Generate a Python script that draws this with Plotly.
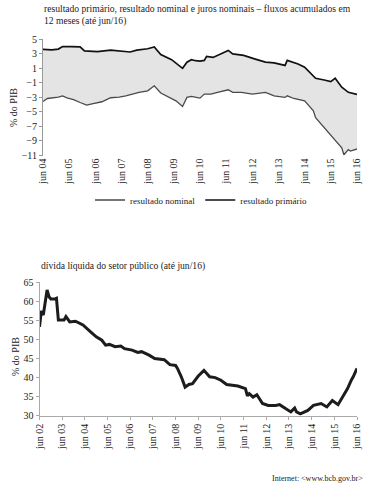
import plotly.graph_objects as go

# ---- top chart data (% do PIB, 12-month flows) ----
prim_dates = ["2004-06", "2004-10", "2005-01", "2005-03", "2005-07", "2005-11", "2006-01", "2006-07",
              "2007-01", "2007-06", "2007-10", "2008-01", "2008-06", "2008-09", "2008-12", "2009-05",
              "2009-10", "2009-12", "2010-02", "2010-04", "2010-06", "2010-08", "2010-09", "2010-12",
              "2011-04", "2011-07", "2011-09", "2012-02", "2012-07", "2012-12", "2013-04", "2013-09",
              "2013-10", "2014-03", "2014-06", "2014-11", "2015-03", "2015-06", "2015-08", "2015-11",
              "2016-02", "2016-06"]
prim_vals = [3.6, 3.55, 3.65, 4.0, 4.0, 3.95, 3.4, 3.3,
             3.5, 3.4, 3.25, 3.5, 3.7, 3.95, 2.9, 2.2,
             1.0, 1.85, 2.2, 2.05, 2.0, 2.1, 2.65, 2.5,
             3.0, 3.47, 3.0, 2.78, 2.3, 1.85, 1.76, 1.4,
             2.1, 1.6, 1.15, -0.37, -0.6, -0.83, -0.37, -1.6,
             -2.3, -2.6]

nom_dates = ["2004-06", "2004-08", "2005-01", "2005-03", "2005-05", "2005-08", "2005-11", "2006-02",
             "2006-05", "2006-09", "2007-01", "2007-05", "2007-08", "2008-02", "2008-06", "2008-09",
             "2008-12", "2009-03", "2009-07", "2009-10", "2009-12", "2010-02", "2010-05", "2010-06",
             "2010-08", "2010-11", "2011-02", "2011-07", "2011-09", "2012-01", "2012-06", "2012-12",
             "2013-04", "2013-09", "2013-10", "2014-01", "2014-06", "2014-08", "2014-10", "2014-11",
             "2015-02", "2015-04", "2015-06", "2015-08", "2015-11", "2015-12", "2016-02", "2016-03",
             "2016-06"]
nom_vals = [-3.56, -3.15, -2.96, -2.8, -3.05, -3.3, -3.7, -4.07,
            -3.85, -3.6, -3.05, -2.96, -2.78, -2.3, -2.1, -1.4,
            -2.4, -2.87, -3.47, -4.26, -3.0, -2.87, -3.0, -3.1,
            -2.55, -2.55, -2.3, -1.95, -2.3, -2.3, -2.55, -2.3,
            -2.78, -3.0, -2.78, -3.15, -3.47, -4.2, -4.86, -5.8,
            -6.85, -7.6, -8.3, -9.0, -9.95, -10.9, -10.2, -10.4,
            -10.1]

top_tick_dates = ["2004-06-01", "2005-06-01", "2006-06-01", "2007-06-01", "2008-06-01", "2009-06-01",
                  "2010-06-01", "2011-06-01", "2012-06-01", "2013-06-01", "2014-06-01", "2015-06-01",
                  "2016-06-01"]
top_tick_text = ["jun 04", "jun 05", "jun 06", "jun 07", "jun 08", "jun 09", "jun 10", "jun 11",
                 "jun 12", "jun 13", "jun 14", "jun 15", "jun 16"]
top_y_ticks = [5, 3, 1, -1, -3, -5, -7, -9, -11]

# ---- bottom chart data (dívida líquida, % do PIB) ----
debt_dates = ["2002-06", "2002-07", "2002-08", "2002-09", "2002-10", "2002-11", "2002-12", "2003-02",
              "2003-03", "2003-04", "2003-07", "2003-08", "2003-10", "2004-01", "2004-03", "2004-05",
              "2004-09", "2004-12", "2005-03", "2005-05", "2005-07", "2005-10", "2006-01", "2006-03",
              "2006-07", "2006-10", "2006-12", "2007-04", "2007-07", "2007-10", "2007-12", "2008-03",
              "2008-06", "2008-07", "2008-09", "2008-11", "2009-01", "2009-03", "2009-06", "2009-09",
              "2009-10", "2009-12", "2010-03", "2010-06", "2010-09", "2010-12", "2011-03", "2011-07",
              "2011-08", "2011-09", "2011-11", "2012-01", "2012-04", "2012-07", "2012-11", "2013-01",
              "2013-04", "2013-07", "2013-09", "2013-10", "2013-12", "2014-04", "2014-07", "2014-11",
              "2015-02", "2015-05", "2015-08", "2015-12", "2016-01", "2016-03", "2016-04", "2016-06"]
debt_vals = [53.3, 57.5, 56.4, 59.5, 63.0, 61.2, 60.6, 60.6,
             60.8, 55.1, 55.1, 56.0, 54.6, 54.8, 54.2, 53.8,
             52.0, 50.7, 49.8, 48.5, 48.7, 48.1, 48.3, 47.6,
             47.2, 46.6, 46.8, 45.9, 45.0, 44.8, 44.7, 43.4,
             43.2, 42.4, 40.2, 37.5, 38.2, 38.4, 40.4, 41.9,
             41.3, 40.2, 40.0, 39.3, 38.2, 38.0, 37.8, 37.1,
             35.2, 35.8, 34.9, 35.5, 33.2, 32.7, 32.7, 32.9,
             32.0, 31.0, 32.0, 31.0, 30.5, 31.4, 32.7, 33.2,
             32.3, 34.0, 32.9, 36.4, 37.1, 39.3, 40.2, 42.4]

bot_tick_dates = ["2002-06-01", "2003-06-01"] + top_tick_dates[:]
bot_tick_text = ["jun 02", "jun 03"] + top_tick_text[:]
bot_y_ticks = [30, 35, 40, 45, 50, 55, 60, 65]

W, H = 369, 492
SERIF = "Times New Roman, Liberation Serif, DejaVu Serif, serif"


def py(sy):
    return 1 - sy / H


def pxx(sx):
    return sx / W


fig = go.Figure()

# fill between lines (juros nominais)
fig.add_trace(go.Scatter(x=nom_dates, y=nom_vals, mode="lines", line=dict(width=0, color="#444"),
                         showlegend=False, hoverinfo="skip", xaxis="x", yaxis="y"))
fig.add_trace(go.Scatter(x=prim_dates, y=prim_vals, mode="lines", line=dict(width=0, color="#111"),
                         fill="tonexty", fillcolor="#e4e4e4", showlegend=False, hoverinfo="skip",
                         xaxis="x", yaxis="y"))
# visible lines
fig.add_trace(go.Scatter(x=nom_dates, y=nom_vals, mode="lines", name="resultado nominal",
                         line=dict(width=1.3, color="#4a4a4a"), xaxis="x", yaxis="y"))
fig.add_trace(go.Scatter(x=prim_dates, y=prim_vals, mode="lines", name="resultado primário",
                         line=dict(width=1.7, color="#111111"), xaxis="x", yaxis="y"))
# debt
fig.add_trace(go.Scatter(x=debt_dates, y=debt_vals, mode="lines", showlegend=False,
                         line=dict(width=3, color="#1c1c1c"), xaxis="x2", yaxis="y2"))

axis_font = dict(family=SERIF, size=10, color="#222")

fig.update_layout(
    template="none",
    width=W, height=H,
    margin=dict(l=0, r=0, t=0, b=0, pad=0),
    paper_bgcolor="white", plot_bgcolor="white",
    font=dict(family=SERIF, color="#222"),
    showlegend=True,
    legend=dict(orientation="h", x=pxx(90), y=py(200), xanchor="left", yanchor="middle",
                font=dict(family=SERIF, size=9, color="#222"), bgcolor="rgba(0,0,0,0)",
                itemwidth=30, tracegroupgap=0, traceorder="normal"),
    xaxis=dict(domain=[pxx(43), pxx(357)], type="date", automargin=False,
               range=["2004-06-01", "2016-06-01"],
               tickvals=top_tick_dates, ticktext=top_tick_text, tickangle=-90,
               tickfont=axis_font, showgrid=False, zeroline=False, showline=False,
               ticks="", anchor="y"),
    yaxis=dict(domain=[py(155.5), py(39.3)], range=[-11, 5], tickvals=top_y_ticks, automargin=False,
               tickfont=axis_font, showgrid=False, zeroline=False, showline=True,
               linecolor="#999", linewidth=1, ticks="outside", ticklen=3, tickcolor="#999",
               anchor="x"),
    xaxis2=dict(domain=[pxx(39.5), pxx(357)], type="date", automargin=False,
                range=["2002-06-01", "2016-06-01"],
                tickvals=bot_tick_dates, ticktext=bot_tick_text, tickangle=-90,
                tickfont=axis_font, showgrid=False, zeroline=False, showline=True,
                linecolor="#aaa", linewidth=1, ticks="outside", ticklen=3, tickcolor="#aaa",
                anchor="y2"),
    yaxis2=dict(domain=[py(415.7), py(282.3)], range=[30, 65], tickvals=bot_y_ticks, automargin=False,
                tickfont=axis_font, showgrid=False, zeroline=False, showline=True,
                linecolor="#aaa", linewidth=1, ticks="outside", ticklen=3, tickcolor="#aaa",
                anchor="x2"),
)

anns = [
    dict(text="resultado primário, resultado nominal e juros nominais – fluxos acumulados em<br>12 meses (até jun/16)",
         x=pxx(42), y=py(1), xanchor="left", yanchor="top", align="left",
         font=dict(family=SERIF, size=9.6, color="#222")),
    dict(text="% do PIB", x=pxx(14), y=py(108), textangle=-90, xanchor="center", yanchor="middle",
         font=dict(family=SERIF, size=10, color="#222")),
    dict(text="dívida líquida do setor público (até jun/16)", x=pxx(39), y=py(266),
         xanchor="left", yanchor="middle", font=dict(family=SERIF, size=9.6, color="#222")),
    dict(text="% do PIB", x=pxx(15), y=py(357), textangle=-90, xanchor="center", yanchor="middle",
         font=dict(family=SERIF, size=10, color="#222")),
    dict(text="Internet: <www.bcb.gov.br>", x=pxx(365), y=py(478), xanchor="right", yanchor="middle",
         font=dict(family=SERIF, size=8, color="#222")),
]
for a in anns:
    a.update(xref="paper", yref="paper", showarrow=False)
fig.update_layout(annotations=anns)

# remove the browser's default 8px page margin so the figure fills the window exactly
fig.write_html("out.html",
               config={"displayModeBar": False},
               post_script="document.body.style.margin='0';document.body.style.overflow='hidden';")
